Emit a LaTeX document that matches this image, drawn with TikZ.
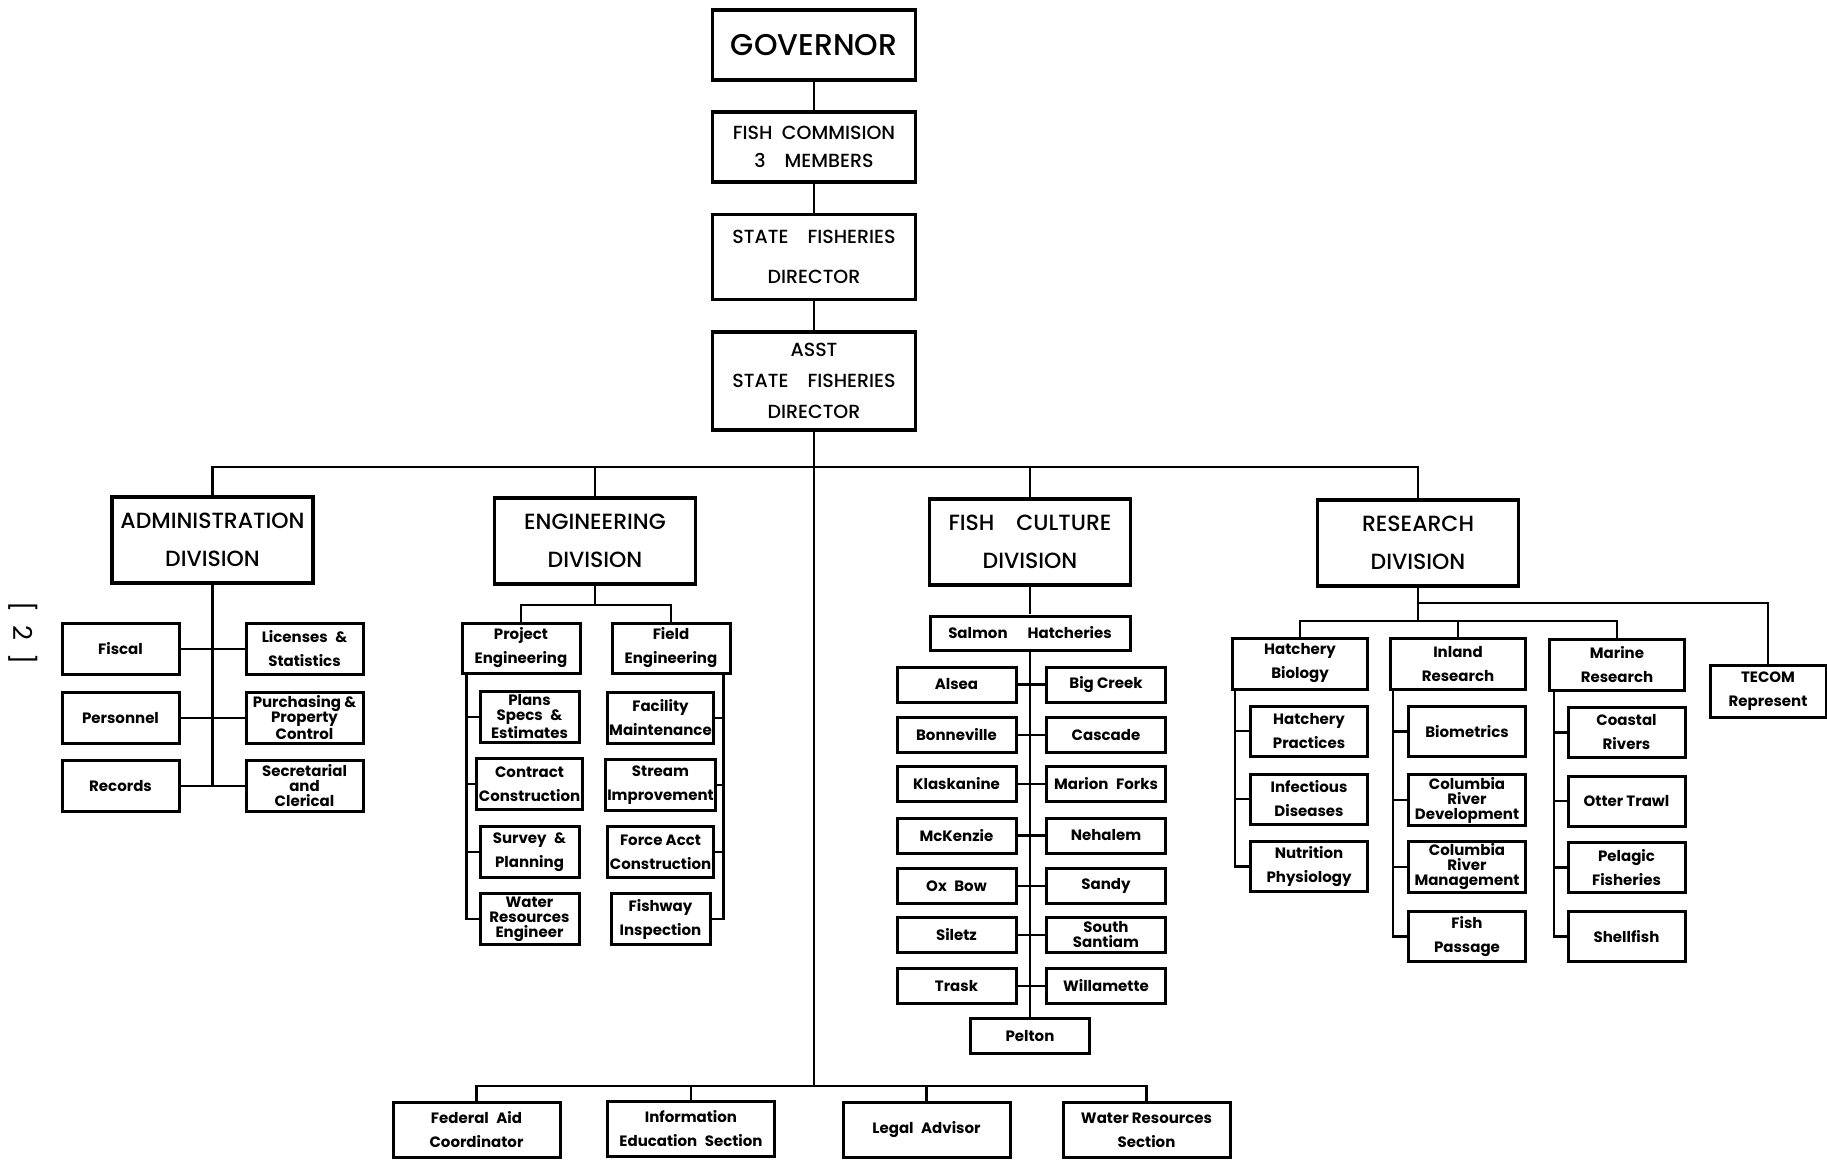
\documentclass[tikz,border=0pt]{standalone}
\usepackage{fontspec}
\setmainfont{Poppins}
\newfontfamily\medfont{Poppins Medium}
\usepackage{tikz}

\tikzset{
  top/.style={draw, line width=1.8pt, align=center, minimum width=101.5pt, font=\medfont\fontsize{9.5}{14}\selectfont},
  div/.style={draw, line width=1.8pt, align=center, minimum width=100.5pt, minimum height=43pt, font=\medfont\fontsize{11}{19}\selectfont},
  unit/.style={draw, line width=1.5pt, align=center, inner sep=1pt, font=\bfseries\fontsize{7.5}{12}\selectfont},
  tight/.style={font=\bfseries\fontsize{7.5}{7.5}\selectfont},
  adm/.style={unit, minimum width=58.5pt, minimum height=25.5pt},
  ehead/.style={unit, minimum width=59pt, minimum height=25pt},
  esub/.style={unit, minimum width=49.5pt, minimum height=25.5pt},
  hatch/.style={unit, minimum width=59.5pt, minimum height=17.5pt},
  rhead/.style={unit, minimum width=67.5pt, minimum height=25.5pt},
  rsub/.style={unit, minimum width=58.5pt, minimum height=25pt},
  staff/.style={unit, minimum width=83.5pt, minimum height=27.5pt},
  link/.style={line width=1.4pt}
}

\begin{document}
\begin{tikzpicture}[x=0.5pt, y=-0.5pt, link]
\useasboundingbox (0,0) rectangle (1827,1160);

% top of the chart
\node[top, minimum height=35pt, font=\medfont\fontsize{15}{15}\selectfont] (gov) at (814,45) {GOVERNOR};
\node[top, minimum height=35pt] (comm) at (814,147) {FISH\enspace COMMISION\\3\quad MEMBERS};
\node[top, minimum height=42.5pt, font=\medfont\fontsize{9.5}{20}\selectfont] (dir) at (814,257) {STATE\quad FISHERIES\\DIRECTOR};
\node[top, minimum height=49pt, font=\medfont\fontsize{9.5}{15.5}\selectfont] (asst) at (814,381) {ASST\\STATE\quad FISHERIES\\DIRECTOR};
\draw (gov) -- (comm);
\draw (comm) -- (dir);
\draw (dir) -- (asst);

\coordinate (topbus) at (814,467);
\coordinate (lowbus) at (814,1086);
\draw (asst.south) -- (lowbus);

% divisions
\node[div] (admin) at (212.5,540) {ADMINISTRATION\\DIVISION};
\node[div] (eng) at (595,541) {ENGINEERING\\DIVISION};
\node[div] (fish) at (1030,542) {FISH\quad CULTURE\\DIVISION};
\node[div] (research) at (1418,543) {RESEARCH\\DIVISION};
\draw (admin.north) |- (topbus) -| (research.north);
\draw (eng.north) -- (eng.north |- topbus);
\draw (fish.north) -- (fish.north |- topbus);

% administration
\node[adm] (fiscal) at (120.5,649) {Fiscal};
\node[adm] (personnel) at (120.5,718) {Personnel};
\node[adm] (records) at (120.5,786) {Records};
\node[adm] (licenses) at (304.5,649) {Licenses\enspace\&\\Statistics};
\node[adm, tight] (purchasing) at (304.5,718) {Purchasing \&\\Property\\Control};
\node[adm, tight] (secretarial) at (304.5,786) {Secretarial\\and\\Clerical};
\draw (admin.south) -- (admin.south |- records.east);
\foreach \l/\r in {fiscal/licenses, personnel/purchasing, records/secretarial}
  \draw (\l) -- (\r);

% engineering
\node[ehead] (project) at (521,648) {Project\\Engineering};
\node[ehead] (field) at (671,648) {Field\\Engineering};
\coordinate (engbus) at (595,605);
\draw (eng.south) -- (engbus);
\draw (project.north) |- (engbus) -| (field.north);
\node[esub, tight] (plans) at (529.5,717) {Plans\\Specs\enspace\&\\Estimates};
\node[esub] (contract) at (529.5,784) {Contract\\Construction};
\node[esub] (survey) at (529.5,852) {Survey\enspace\&\\Planning};
\node[esub, tight] (water) at (529.5,919) {Water\\Resources\\Engineer};
\node[esub] (facility) at (660.5,718) {Facility\\Maintenance};
\node[esub] (stream) at (660.5,785) {Stream\\Improvement};
\node[esub] (force) at (660.5,852) {Force Acct\\Construction};
\node[esub] (fishway) at (660.5,919) {Fishway\\Inspection};
\coordinate (psp) at ([xshift=3pt]project.south west);
\coordinate (fsp) at ([xshift=-4pt]field.south east);
\draw (psp) |- (water.west);
\foreach \n in {plans, contract, survey}
  \draw (\n.west) -- (psp |- \n.west);
\draw (fsp) |- (fishway.east);
\foreach \n in {facility, stream, force}
  \draw (\n.east) -- (fsp |- \n.east);

% fish culture
\node[unit, minimum width=100pt, minimum height=17pt] (salmon) at (1030,633) {Salmon\hspace{10pt}Hatcheries};
\node[hatch] (alsea) at (956.5,684.5) {Alsea};
\node[hatch] (bonneville) at (956.5,735) {Bonneville};
\node[hatch] (klaskanine) at (956.5,784) {Klaskanine};
\node[hatch] (mckenzie) at (956.5,835.5) {McKenzie};
\node[hatch] (oxbow) at (956.5,886) {Ox\enspace Bow};
\node[hatch] (siletz) at (956.5,935) {Siletz};
\node[hatch] (trask) at (956.5,986) {Trask};
\node[hatch] (bigcreek) at (1106,684.5) {Big Creek};
\node[hatch] (cascade) at (1106,735) {Cascade};
\node[hatch] (marion) at (1106,784) {Marion\enspace Forks};
\node[hatch] (nehalem) at (1106,835.5) {Nehalem};
\node[hatch] (sandy) at (1106,886) {Sandy};
\node[hatch, tight] (santiam) at (1106,935) {South\\Santiam};
\node[hatch] (willamette) at (1106,986) {Willamette};
\node[hatch] (pelton) at (1030,1036) {Pelton};
\draw (fish) -- (salmon);
\draw (salmon) -- (pelton);
\foreach \l/\r in {alsea/bigcreek, bonneville/cascade, klaskanine/marion, mckenzie/nehalem, oxbow/sandy, siletz/santiam, trask/willamette}
  \draw (\l) -- (\r);

% research
\node[rhead] (hbio) at (1300,663.5) {Hatchery\\Biology};
\node[rhead] (inland) at (1458,664) {Inland\\Research};
\node[rhead] (marine) at (1617,664.5) {Marine\\Research};
\node[unit, minimum width=58pt, minimum height=26pt] (tecom) at (1768,691) {TECOM\\Represent};
\coordinate (rbus) at (1418,621);
\coordinate (tbus) at (1418,603);
\draw (research.south) -- (rbus);
\draw (hbio.north) |- (rbus) -| (marine.north);
\draw (inland.north) -- (inland.north |- rbus);
\draw (tbus) -| (tecom.north);

\node[rsub] (practices) at (1309,731) {Hatchery\\Practices};
\node[rsub] (diseases) at (1309,799) {Infectious\\Diseases};
\node[rsub] (nutrition) at (1309,866.5) {Nutrition\\Physiology};
\node[rsub] (biometrics) at (1467,731.5) {Biometrics};
\node[rsub, tight] (crdev) at (1467,800) {Columbia\\River\\Development};
\node[rsub, tight] (crman) at (1467,867) {Columbia\\River\\Management};
\node[rsub] (passage) at (1467,936.5) {Fish\\Passage};
\node[rsub] (coastal) at (1626.5,732.5) {Coastal\\Rivers};
\node[rsub] (otter) at (1626.5,801) {Otter Trawl};
\node[rsub] (pelagic) at (1626.5,867.5) {Pelagic\\Fisheries};
\node[rsub] (shellfish) at (1626.5,936.5) {Shellfish};
\coordinate (hsp) at ([xshift=2pt]hbio.south west);
\coordinate (isp) at ([xshift=2pt]inland.south west);
\coordinate (msp) at ([xshift=3pt]marine.south west);
\draw (hsp) |- (nutrition.west);
\foreach \n in {practices, diseases}
  \draw (\n.west) -- (hsp |- \n.west);
\draw (isp) |- (passage.west);
\foreach \n in {biometrics, crdev, crman}
  \draw (\n.west) -- (isp |- \n.west);
\draw (msp) |- (shellfish.west);
\foreach \n in {coastal, otter, pelagic}
  \draw (\n.west) -- (msp |- \n.west);

% staff sections
\node[staff] (federal) at (476.5,1130) {Federal\enspace Aid\\Coordinator};
\node[staff] (info) at (691,1129) {Information\\Education\enspace Section};
\node[staff] (legal) at (926.5,1130) {Legal\enspace Advisor};
\node[staff] (wrsec) at (1146.5,1130) {Water Resources\\Section};
\draw (federal.north) |- (lowbus) -| (wrsec.north);
\draw (info.north) -- (info.north |- lowbus);
\draw (legal.north) -- (legal.north |- lowbus);

\node[rotate=-90, font=\fontsize{13}{13}\selectfont] (page) at (23,633) {[\enspace2\enspace]};
\end{tikzpicture}
\end{document}
